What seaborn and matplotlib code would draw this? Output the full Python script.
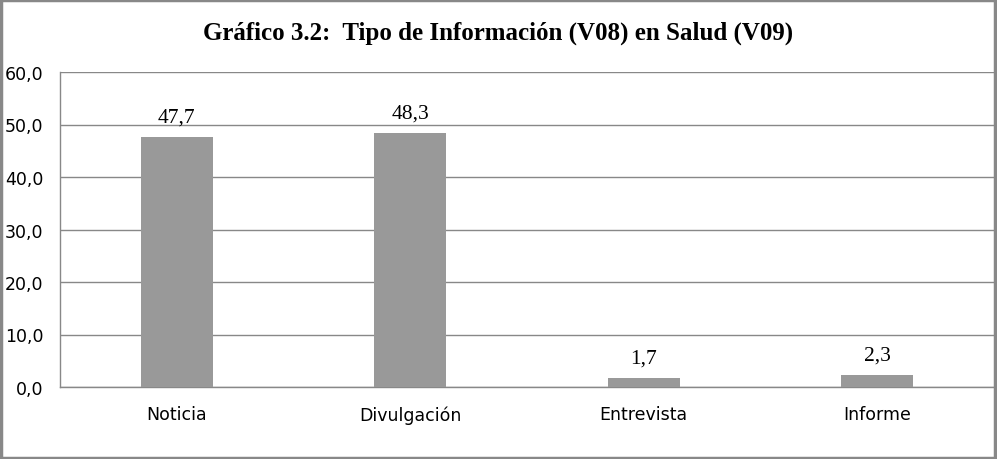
import matplotlib
matplotlib.use("Agg")
import matplotlib.pyplot as plt
import seaborn as sns
import pandas as pd

categorias = ["Noticia", "Divulgación", "Entrevista", "Informe"]
porcentajes = [47.7, 48.3, 1.7, 2.3]
y_ticks = [0, 10, 20, 30, 40, 50, 60]

sns.set_style("white")
plt.rcParams['font.family'] = ['DejaVu Sans']

df = pd.DataFrame({"tipo": categorias, "pct": porcentajes})

fig = plt.figure(figsize=(9.97, 4.6), dpi=100)
ax = fig.add_axes([60 / 997, 1 - 388 / 460, 934 / 997, 315 / 460])

sns.barplot(data=df, x="tipo", y="pct", color="#999999", width=0.31,
            saturation=1, linewidth=0, edgecolor="none", ax=ax, zorder=3)

ax.set_ylim(0, 60)
ax.set_xlim(-0.5, 3.5)
ax.set_yticks(y_ticks)
ax.set_yticklabels([f"{v:.1f}".replace(".", ",") for v in y_ticks], fontsize=12.5)
ax.tick_params(axis="x", labelsize=12.5, pad=13, length=0, labelcolor="black")
ax.tick_params(axis="y", pad=12, length=0, labelcolor="black")
ax.set_xlabel("")
ax.set_ylabel("")
ax.grid(axis="y", color="#888888", linewidth=1, zorder=0)

for s in ["top", "right"]:
    ax.spines[s].set_visible(False)
for s in ["left", "bottom"]:
    ax.spines[s].set_color("#888888")
    ax.spines[s].set_linewidth(1)

# value labels above bars
for bar, v in zip(ax.patches, porcentajes):
    ax.text(bar.get_x() + bar.get_width() / 2, bar.get_height() + 2.0,
            f"{v:.1f}".replace(".", ","), ha="center", va="bottom",
            fontsize=15.5, family="Liberation Serif", color="black")

fig.text(0.5, 1 - 33 / 460, "Gráfico 3.2:  Tipo de Información (V08) en Salud (V09)",
         ha="center", va="center", fontsize=18, fontweight="bold",
         family="Liberation Serif", color="black")

# outer frame
fig.patches.append(plt.Rectangle((0.001, 0.002), 0.997, 0.996, transform=fig.transFigure,
                                 fill=False, edgecolor="#888888", linewidth=2.5))

fig.savefig("out.png", dpi=100)
